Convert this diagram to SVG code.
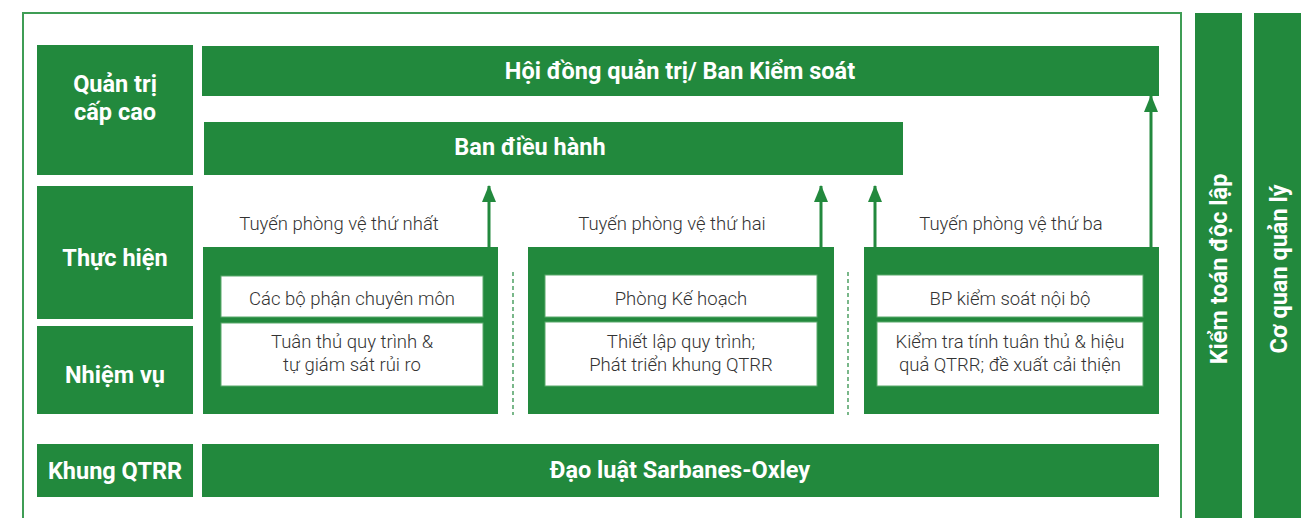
<svg xmlns="http://www.w3.org/2000/svg" width="1310" height="518" viewBox="0 0 1310 518">
<defs>
<style>
.g{fill:#22893D}
.w{fill:#fff;stroke:#5aaa6c;stroke-width:1}
.tb{font-family:Roboto,"Liberation Sans",sans-serif;font-weight:bold;font-size:23.5px;fill:#fff;text-anchor:middle}
.tr{font-family:Roboto,"Liberation Sans",sans-serif;font-weight:300;font-size:18.5px;fill:#333;text-anchor:middle}
.ar{stroke:#22893D;stroke-width:3;fill:none}
.ds{stroke:#22893D;stroke-width:1.2;stroke-dasharray:4 3}
</style>
<marker id="ah" viewBox="0 0 17 14" refX="16" refY="7" markerWidth="17" markerHeight="14" markerUnits="userSpaceOnUse" orient="auto">
<path d="M0,0 L17,7 L0,14 Z" fill="#22893D"/>
</marker>
</defs>
<rect width="1310" height="518" fill="#fff"/>
<path d="M23,520 V13 H1181 V520" fill="none" stroke="#3f9d55" stroke-width="2"/>

<g id="label-quantri"><rect class="g" x="37" y="45" width="156" height="130"/><text class="tb" x="115" y="92">Quản trị</text><text class="tb" x="115" y="120">cấp cao</text></g>
<g id="label-thuchien"><rect class="g" x="37" y="186" width="156" height="133"/><text class="tb" x="115" y="266">Thực hiện</text></g>
<g id="label-nhiemvu"><rect class="g" x="37" y="326" width="156" height="88"/><text class="tb" x="115" y="383">Nhiệm vụ</text></g>
<g id="label-khung"><rect class="g" x="37" y="444" width="156" height="53"/><text class="tb" x="115" y="479">Khung QTRR</text></g>

<g id="hoidong"><rect class="g" x="202" y="46" width="957" height="50"/><text class="tb" x="680" y="79">Hội đồng quản trị/ Ban Kiểm soát</text></g>
<g id="bandieuhanh"><rect class="g" x="204" y="122" width="699" height="53"/><text class="tb" x="530" y="155">Ban điều hành</text></g>
<g id="daoluat"><rect class="g" x="202" y="444" width="957" height="53"/><text class="tb" x="680" y="478">Đạo luật Sarbanes-Oxley</text></g>

<g id="line1">
<text class="tr" x="339" y="230">Tuyến phòng vệ thứ nhất</text>
<rect class="g" x="203" y="247" width="295" height="167"/>
<rect class="w" x="221" y="276" width="262" height="41"/>
<text class="tr" x="352" y="305">Các bộ phận chuyên môn</text>
<rect class="w" x="221" y="323" width="262" height="63"/>
<text class="tr" x="352" y="348">Tuân thủ quy trình &amp;</text>
<text class="tr" x="352" y="371">tự giám sát rủi ro</text>
</g>
<g id="line2">
<text class="tr" x="672" y="230">Tuyến phòng vệ thứ hai</text>
<rect class="g" x="528" y="247" width="306" height="167"/>
<rect class="w" x="545" y="275" width="272" height="42"/>
<text class="tr" x="681" y="305">Phòng Kế hoạch</text>
<rect class="w" x="545" y="322" width="272" height="64"/>
<text class="tr" x="681" y="348">Thiết lập quy trình;</text>
<text class="tr" x="681" y="371">Phát triển khung QTRR</text>
</g>
<g id="line3">
<text class="tr" x="1011" y="230">Tuyến phòng vệ thứ ba</text>
<rect class="g" x="864" y="247" width="295" height="167"/>
<rect class="w" x="877" y="275" width="266" height="42"/>
<text class="tr" x="1010" y="305">BP kiểm soát nội bộ</text>
<rect class="w" x="877" y="322" width="266" height="64"/>
<text class="tr" x="1010" y="348">Kiểm tra tính tuân thủ &amp; hiệu</text>
<text class="tr" x="1010" y="371">quả QTRR; đề xuất cải thiện</text>
</g>

<g id="kiemtoan"><rect class="g" x="1195" y="13" width="47" height="510"/><text class="tb" transform="translate(1227,269) rotate(-90)" x="0" y="0">Kiểm toán độc lập</text></g>
<g id="coquan"><rect class="g" x="1254" y="13" width="47" height="510"/><text class="tb" transform="translate(1287,269) rotate(-90)" x="0" y="0">Cơ quan quản lý</text></g>

<g id="connectors">
<line class="ds" x1="513" y1="272" x2="513" y2="415"/>
<line class="ds" x1="848" y1="272" x2="848" y2="415"/>
<line class="ar" x1="489" y1="247" x2="489" y2="186" marker-end="url(#ah)"/>
<line class="ar" x1="821" y1="247" x2="821" y2="186" marker-end="url(#ah)"/>
<line class="ar" x1="875" y1="247" x2="875" y2="186" marker-end="url(#ah)"/>
<line class="ar" x1="1151" y1="247" x2="1151" y2="96" marker-end="url(#ah)"/>
</g>
</svg>
